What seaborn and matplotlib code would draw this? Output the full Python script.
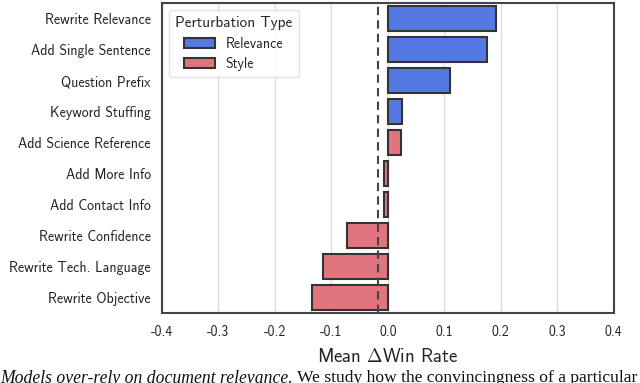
import pandas as pd
import matplotlib.pyplot as plt
import seaborn as sns

# Values
perturbations = ['Rewrite Relevance', 'Add Single Sentence', 'Question Prefix',
                 'Keyword Stuffing', 'Add Science Reference', 'Add More Info',
                 'Add Contact Info', 'Rewrite Confidence', 'Rewrite Tech. Language',
                 'Rewrite Objective']
mean_delta = [0.191, 0.176, 0.110, 0.025, 0.024, -0.006, -0.007, -0.073, -0.115, -0.134]
ptype = ['Relevance', 'Relevance', 'Relevance', 'Relevance', 'Style', 'Style',
         'Style', 'Style', 'Style', 'Style']
overall_mean = -0.018
xticks = [-0.4, -0.3, -0.2, -0.1, 0.0, 0.1, 0.2, 0.3, 0.4]

df = pd.DataFrame({'perturbation': perturbations, 'delta': mean_delta, 'type': ptype})

sns.set_style('whitegrid')
plt.rcParams['font.family'] = ['cmss10', 'DejaVu Sans']
plt.rcParams['mathtext.fontset'] = 'custom'
plt.rcParams['mathtext.rm'] = 'cmss10'
plt.rcParams['mathtext.it'] = 'cmss10'
plt.rcParams['axes.unicode_minus'] = False
plt.rcParams['axes.formatter.use_mathtext'] = False

fig = plt.figure(figsize=(6.4, 3.83), dpi=100)
ax = fig.add_axes([0.253, 0.183, 0.706, 0.809])

palette = {'Relevance': '#5479E2', 'Style': '#E0757F'}
sns.barplot(data=df, y='perturbation', x='delta', hue='type', order=perturbations,
            hue_order=['Relevance', 'Style'], palette=palette, dodge=False,
            edgecolor='#333333', linewidth=1.5, width=0.78, saturation=1, ax=ax)

# dashed mean line drawn over the bars
ax.axvline(overall_mean, color='#444444', linestyle=(0, (4, 2.5)), linewidth=1.5, zorder=3)

ax.set_xlim(-0.4, 0.4)
ax.set_xticks(xticks)
ax.set_xticklabels([f'{t:.1f}' for t in xticks])
ax.grid(axis='x', color='#dddddd', linewidth=1)
ax.grid(axis='y', visible=False)
ax.set_axisbelow(True)
ax.set_ylabel('')
ax.set_xlabel(r'Mean $\Delta$Win Rate', fontsize=13.5, color='#222222', labelpad=6)
ax.tick_params(axis='y', labelsize=10, colors='#222222', length=0, pad=8)
ax.tick_params(axis='x', labelsize=10, colors='#222222', length=0, pad=9)
for s in ax.spines.values():
    s.set_color('#444444')
    s.set_linewidth(1.5)

leg = ax.legend(title='Perturbation Type', loc='upper left', fontsize=10,
                title_fontsize=11, frameon=True, handlelength=2.2,
                borderpad=0.45, labelspacing=0.45)
leg.get_frame().set_edgecolor('#dddddd')

# Caption fragment cut off at the bottom of the picture
fig.text(0.0, 0.033, 'Models over-rely on document relevance.', fontsize=12.7,
         family='Liberation Serif', style='italic', va='top', color='#111111')
fig.text(0.464, 0.033, 'We study how the convincingness of a particular', fontsize=12.6,
         family='Liberation Serif', va='top', color='#111111')

plt.savefig('out.png', dpi=100)
